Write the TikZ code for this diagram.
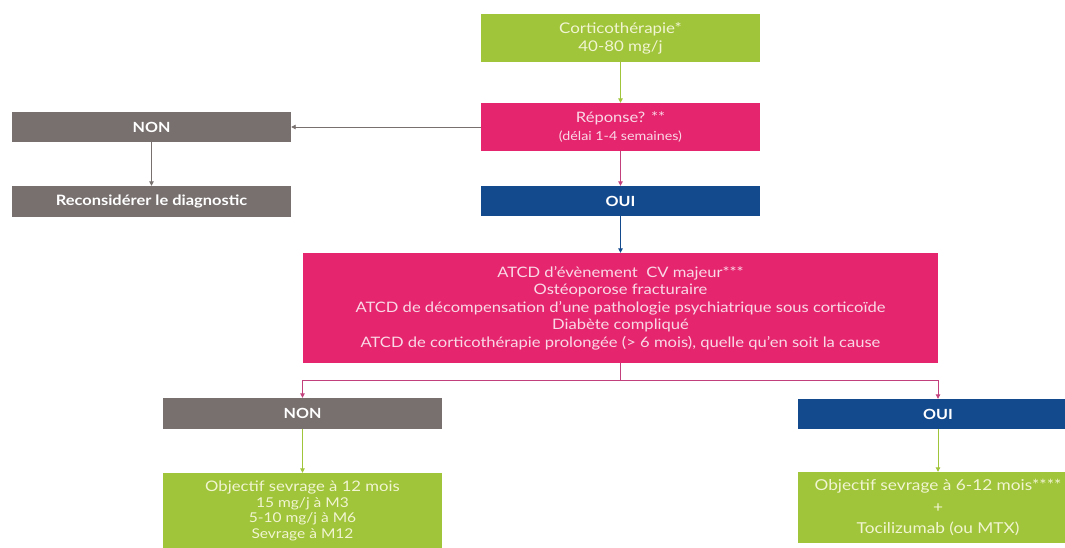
\documentclass[tikz,border=0pt]{standalone}
\usepackage{fontspec}
\setmainfont{Lato}[FakeStretch=1.15]
\usetikzlibrary{arrows.meta}
\definecolor{cgreen}{HTML}{A0C43A}
\definecolor{cpink}{HTML}{E5266F}
\definecolor{cgray}{HTML}{77706F}
\definecolor{cnavy}{HTML}{134A8E}
\definecolor{tgreen}{HTML}{F1F5D2}
\definecolor{tpink}{HTML}{FAD9E6}
\definecolor{lpink}{HTML}{C2417C}
\tikzset{
  box/.style={rectangle, inner sep=0pt, align=center, minimum width=279pt},
  gbox/.style={box, fill=cgreen, text=tgreen},
  pbox/.style={box, fill=cpink, text=tpink},
  graybox/.style={box, fill=cgray, text=white, font=\fontsize{14}{16}\selectfont\bfseries},
  nbox/.style={box, fill=cnavy, text=white, font=\fontsize{14}{16}\selectfont\bfseries},
  arr/.style={line width=0.9pt, -{Triangle[width=4.5pt,length=4.5pt]}},
}
\begin{document}
\begin{tikzpicture}[x=1pt,y=-1pt]
\useasboundingbox (0,0) rectangle (1065,547);
\clip (0,0) rectangle (1065,547);
\fill[white] (0,0) rectangle (1065,547);

\node[gbox, minimum height=48pt, font=\fontsize{14.7}{18}\selectfont] (cort) at (620.5,38) {Corticothérapie*\\40-80 mg/j};
\node[pbox, minimum height=48pt, font=\fontsize{12.4}{18}\selectfont] (rep) at (620.5,127) {{\fontsize{14.4}{17}\selectfont Réponse? **}\\(délai 1-4 semaines)};
\node[nbox, minimum height=30pt] (oui1) at (620.5,201) {OUI};
\node[graybox, minimum height=30pt] (non1) at (151.5,127) {NON};
\node[graybox, minimum height=31pt, font=\fontsize{14.3}{16}\selectfont\bfseries] (recon) at (151.5,201.5) {Reconsidérer le diagnostic};
\node[pbox, minimum width=635pt, minimum height=110pt, font=\fontsize{14.4}{17.5}\selectfont] (big) at (620.5,308) {ATCD d'évènement\ \ CV majeur***\\Ostéoporose fracturaire\\ATCD de décompensation d'une pathologie psychiatrique sous corticoïde\\Diabète compliqué\\ATCD de corticothérapie prolongée (> 6 mois), quelle qu'en soit la cause};
\node[graybox, minimum height=31pt] (non2) at (302.5,413.5) {NON};
\node[nbox, minimum width=280pt, minimum height=30pt] (oui2) at (938,414) {OUI};
\node[gbox, minimum height=76pt, font=\fontsize{13.5}{15.7}\selectfont] (g1) at (302.5,511) {{\fontsize{14.5}{16}\selectfont Objectif sevrage à 12 mois}\\15 mg/j à M3\\5-10 mg/j à M6\\Sevrage à M12};
\node[gbox, minimum width=280pt, minimum height=71pt, font=\fontsize{15}{21.5}\selectfont] (g2) at (938,507.5) {Objectif sevrage à 6-12 mois****\\+\\Tocilizumab (ou MTX)};

\coordinate (br) at (620.5,380);
\draw[arr, cgreen] (cort.south) -- (rep.north);
\draw[arr, lpink] (rep.south) -- (oui1.north);
\draw[arr, cgray] (rep.west) -- (non1.east);
\draw[arr, cgray] (non1.south) -- (recon.north);
\draw[arr, cnavy] (oui1.south) -- (big.north);
\draw[line width=0.9pt, lpink] (big.south) -- (br);
\draw[arr, lpink] (br) -| (non2.north);
\draw[arr, lpink] (br) -| (oui2.north);
\draw[arr, cgreen] (non2.south) -- (g1.north);
\draw[arr, cgreen] (oui2.south) -- (g2.north);
\end{tikzpicture}
\end{document}
